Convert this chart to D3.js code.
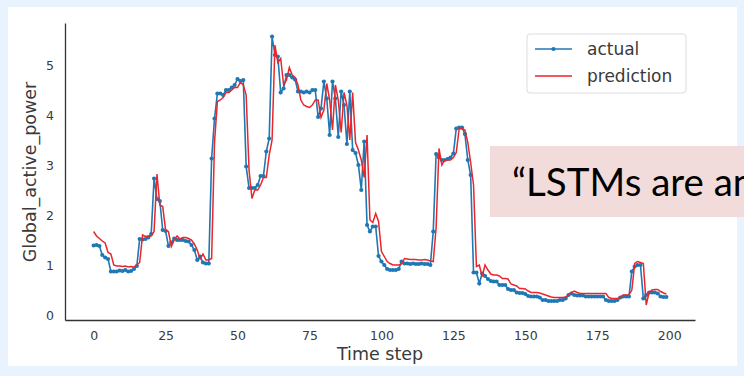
<!DOCTYPE html>
<html>
<head>
<meta charset="utf-8">
<script src="https://cdn.jsdelivr.net/npm/d3@7"></script>
<style>
  html, body { margin: 0; padding: 0; background: #e9f3fd; }
  svg { display: block; }
</style>
</head>
<body>
<svg id="chart" width="744" height="376"></svg>
<script>
// actual Global_active_power per time step (0..199)
const actual = [
  1.39, 1.40, 1.38, 1.20, 1.15, 1.12, 0.87, 0.87, 0.87, 0.89,
  0.88, 0.90, 0.87, 0.88, 0.92, 0.98, 1.52, 1.51, 1.52, 1.55,
  1.62, 2.73, 2.32, 2.28, 1.70, 1.68, 1.38, 1.45, 1.53, 1.50,
  1.50, 1.50, 1.48, 1.47, 1.40, 1.30, 1.10, 1.17, 1.05, 1.03,
  1.03, 3.13, 3.93, 4.43, 4.43, 4.40, 4.50, 4.50, 4.55, 4.60,
  4.72, 4.68, 4.70, 2.97, 2.54, 2.54, 2.54, 2.60, 2.78, 2.78,
  3.27, 3.53, 5.57, 5.20, 5.17, 4.45, 4.53, 4.80, 4.80, 4.75,
  4.71, 4.47, 4.47, 4.45, 4.47, 4.45, 4.50, 4.50, 3.96, 4.13,
  4.67, 4.33, 3.60, 4.67, 4.33, 3.56, 4.47, 4.20, 3.42, 4.47,
  3.30, 3.24, 3.00, 2.50, 3.47, 1.80, 1.67, 1.77, 1.77, 1.18,
  1.07, 1.00, 0.92, 0.90, 0.90, 0.90, 0.92, 1.07, 1.03, 1.03,
  1.02, 1.03, 1.02, 1.02, 1.03, 1.02, 1.02, 1.00, 1.67, 3.22,
  3.15, 3.10, 3.10, 3.12, 3.15, 3.23, 3.73, 3.75, 3.75, 3.62,
  3.10, 2.80, 0.85, 0.85, 0.63, 0.83, 0.78, 0.72, 0.68, 0.67,
  0.67, 0.60, 0.60, 0.60, 0.52, 0.50, 0.50, 0.45, 0.44, 0.44,
  0.42, 0.38, 0.37, 0.37, 0.37, 0.35, 0.30, 0.30, 0.28, 0.28,
  0.28, 0.28, 0.30, 0.30, 0.33, 0.40, 0.43, 0.40, 0.39, 0.39,
  0.39, 0.37, 0.37, 0.37, 0.37, 0.37, 0.37, 0.37, 0.30, 0.28,
  0.28, 0.28, 0.30, 0.35, 0.37, 0.37, 0.37, 0.87, 0.97, 1.00,
  1.00, 0.33, 0.40, 0.45, 0.45, 0.45, 0.43, 0.37, 0.36, 0.36
];

// model prediction per time step
const prediction = [
  1.67, 1.58, 1.53, 1.48, 1.44, 1.25, 1.22, 1.00, 0.98, 0.98,
  0.97, 0.98, 0.96, 0.97, 0.96, 1.00, 1.05, 1.60, 1.57, 1.58,
  1.58, 1.67, 2.82, 2.20, 2.17, 1.70, 1.67, 1.37, 1.50, 1.58,
  1.52, 1.55, 1.55, 1.53, 1.50, 1.42, 1.30, 1.12, 1.22, 1.10,
  1.10, 1.13, 3.45, 4.27, 4.30, 4.35, 4.45, 4.45, 4.50, 4.55,
  4.55, 4.65, 4.60, 4.40, 2.90, 2.33, 2.50, 2.50, 2.60, 2.75,
  2.75, 3.20, 3.50, 5.40, 5.05, 5.13, 4.60, 4.70, 4.95, 4.80,
  4.75, 4.60, 4.30, 4.20, 4.17, 4.15, 4.20, 4.30, 4.30, 3.95,
  4.10, 4.63, 4.30, 3.70, 4.60, 4.30, 3.65, 4.45, 4.20, 3.50,
  4.45, 3.45, 3.30, 3.10, 2.75, 3.60, 1.90, 1.85, 2.03, 1.87,
  1.27, 1.17, 1.07, 1.03, 1.00, 1.00, 1.00, 1.02, 1.13, 1.12,
  1.11, 1.11, 1.11, 1.10, 1.10, 1.11, 1.10, 1.08, 1.07, 1.75,
  3.33, 3.00, 3.10, 3.10, 3.10, 3.15, 3.25, 3.72, 3.73, 3.70,
  3.45, 3.05, 2.60, 0.97, 1.00, 0.77, 1.00, 0.90, 0.82, 0.80,
  0.80, 0.78, 0.73, 0.73, 0.72, 0.62, 0.60, 0.58, 0.53, 0.53,
  0.52, 0.48, 0.45, 0.45, 0.45, 0.44, 0.42, 0.40, 0.38, 0.36,
  0.35, 0.35, 0.35, 0.35, 0.36, 0.40, 0.45, 0.48, 0.45, 0.43,
  0.43, 0.43, 0.43, 0.43, 0.43, 0.43, 0.43, 0.43, 0.43, 0.35,
  0.33, 0.33, 0.33, 0.35, 0.40, 0.40, 0.40, 0.50, 1.03, 1.07,
  1.05, 1.03, 0.20, 0.45, 0.50, 0.51, 0.51, 0.47, 0.44, 0.42
];

const xTicks = [0, 25, 50, 75, 100, 125, 150, 175, 200];
const yTicks = [0, 1, 2, 3, 4, 5];
const seriesNames = ["actual", "prediction"];
const calloutText = "\u201CLSTMs are an";

const blue = "#1f77b4";
const red = "#e8262b";
const ink = "#3a3a3a";
const font = "'DejaVu Sans', sans-serif";

const svg = d3.select("#chart");

// slide background + white panel
svg.append("rect").attr("width", 744).attr("height", 376).attr("fill", "#e9f3fd");
svg.append("rect").attr("x", 8).attr("y", 7).attr("width", 729).attr("height", 359).attr("fill", "#fff");

const margin = { left: 65, right: 695, top: 23, bottom: 320 };

const x = d3.scaleLinear()
  .domain([-9.95, actual.length - 1 + 9.95])
  .range([margin.left, margin.right]);
const y = d3.scaleLinear()
  .domain([-0.1, 5.84])
  .range([margin.bottom, margin.top]);

// axes (no tick marks, seaborn white style)
const xAxis = svg.append("g")
  .attr("transform", `translate(0,${margin.bottom})`)
  .call(d3.axisBottom(x).tickValues(xTicks).tickFormat(d3.format("d")).tickSize(0).tickPadding(11));
const yAxis = svg.append("g")
  .attr("transform", `translate(${margin.left},0)`)
  .call(d3.axisLeft(y).tickValues(yTicks).tickFormat(d3.format("d")).tickSize(0).tickPadding(11));

[xAxis, yAxis].forEach((g) => {
  g.select(".domain").attr("stroke", "#333").attr("stroke-width", 1.3);
  g.selectAll("text")
    .attr("fill", ink)
    .style("font-family", font)
    .style("font-size", "12.5px");
});

svg.append("text")
  .attr("x", (margin.left + margin.right) / 2)
  .attr("y", 360)
  .attr("text-anchor", "middle")
  .attr("fill", ink)
  .style("font-family", font)
  .style("font-size", "17.5px")
  .text("Time step");

svg.append("text")
  .attr("transform", "translate(36,172) rotate(-90)")
  .attr("text-anchor", "middle")
  .attr("fill", ink)
  .style("font-family", font)
  .style("font-size", "17.5px")
  .text("Global_active_power");

const line = d3.line()
  .x((d, i) => x(i))
  .y((d) => y(d));

svg.append("path")
  .datum(actual)
  .attr("d", line)
  .attr("fill", "none")
  .attr("stroke", blue)
  .attr("stroke-width", 1.6);

svg.append("g")
  .selectAll("circle")
  .data(actual)
  .enter()
  .append("circle")
  .attr("cx", (d, i) => x(i))
  .attr("cy", (d) => y(d))
  .attr("r", 2.1)
  .attr("fill", blue);

svg.append("path")
  .datum(prediction)
  .attr("d", line)
  .attr("fill", "none")
  .attr("stroke", red)
  .attr("stroke-width", 1.5);

// legend
const legend = svg.append("g").attr("transform", "translate(527,34)");
legend.append("rect")
  .attr("width", 159)
  .attr("height", 59)
  .attr("rx", 3)
  .attr("fill", "#fff")
  .attr("stroke", "#ddd");

seriesNames.forEach((name, i) => {
  const ly = 15 + i * 27;
  const color = i === 0 ? blue : red;
  legend.append("line")
    .attr("x1", 8).attr("x2", 45)
    .attr("y1", ly).attr("y2", ly)
    .attr("stroke", color)
    .attr("stroke-width", 1.5);
  if (i === 0) {
    legend.append("circle").attr("cx", 26.5).attr("cy", ly).attr("r", 2.1).attr("fill", color);
  }
  legend.append("text")
    .attr("x", 60)
    .attr("y", ly)
    .attr("dy", "0.35em")
    .attr("fill", ink)
    .style("font-family", font)
    .style("font-size", "17px")
    .text(name);
});

// slide callout box
svg.append("rect")
  .attr("x", 490).attr("y", 146)
  .attr("width", 254).attr("height", 71)
  .attr("fill", "#f2dcdb");
svg.append("text")
  .attr("x", 512)
  .attr("y", 196)
  .attr("fill", "#000")
  .style("font-family", "Lato, 'Open Sans', sans-serif")
  .style("font-size", "38.5px")
  .text(calloutText);
</script>
</body>
</html>
